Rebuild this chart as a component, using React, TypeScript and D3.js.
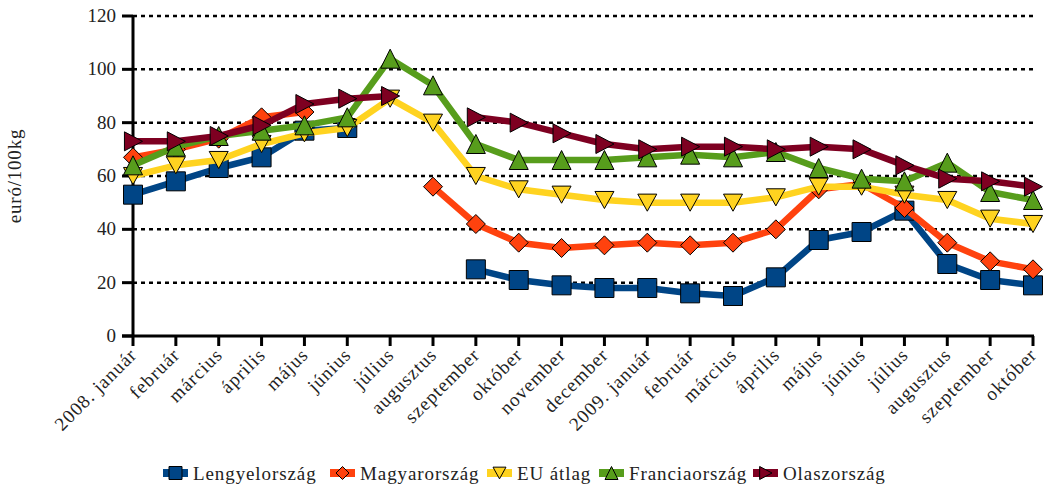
import * as d3 from 'd3';

const months = [
  '2008. január', 'február', 'március', 'április', 'május', 'június', 'július', 'augusztus',
  'szeptember', 'október', 'november', 'december', '2009. január', 'február', 'március',
  'április', 'május', 'június', 'július', 'augusztus', 'szeptember', 'október',
];

const lengyel = [53, 58, 63, 67, 77, 78, null, null, 25, 21, 19, 18, 18, 16, 15, 22, 36, 39, 47, 27, 21, 19];
const magyar = [67, 70, 74, 82, 84, null, null, 56, 42, 35, 33, 34, 35, 34, 35, 40, 55, 57, 48, 35, 28, 25];
const euAtlag = [60, 64, 66, 72, 76, 78, 89, 80, 60, 55, 53, 51, 50, 50, 50, 52, 56, 56, 53, 51, 44, 42];
const francia = [64, 71, 75, 77, 79, 82, 104, 94, 72, 66, 66, 66, 67, 68, 67, 69, 63, 59, 58, 65, 54, 51];
const olasz = [73, 73, 75, 79, 87, 89, 90, null, 82, 80, 76, 72, 70, 71, 71, 70, 71, 70, 64, 59, 58, 56];

const yTicks = [0, 20, 40, 60, 80, 100, 120];

const seriesNames = ['Lengyelország', 'Magyarország', 'EU átlag', 'Franciaország', 'Olaszország'];
const seriesValues = [lengyel, magyar, euAtlag, francia, olasz];
const seriesColors = ['#004586', '#ff420e', '#ffd320', '#579d1c', '#7e0021'];
const seriesShapes = ['square', 'diamond', 'down', 'up', 'right'];

const FONT = "'Liberation Serif', 'DejaVu Serif', serif";

// marker path centred on 0,0
const markerPath = (shape: string, s: number) => {
  const h = s / 2;
  switch (shape) {
    case 'square':
      return `M${-h},${-h}H${h}V${h}H${-h}Z`;
    case 'diamond':
      return `M0,${-h}L${h},0L0,${h}L${-h},0Z`;
    case 'down':
      return `M${-h},${-h * 0.9}H${h}L0,${h * 0.9}Z`;
    case 'up':
      return `M0,${-h}L${h},${h}H${-h}Z`;
    default:
      return `M${-h * 0.9},${-h}L${h},0L${-h * 0.9},${h}Z`;
  }
};

const legendX = [163, 330, 487, 599, 753];

export default function App() {
  const left = 133;
  const right = 1033;
  const top = 16;
  const bottom = 336;

  const x = d3.scalePoint<number>().domain(d3.range(months.length)).range([left, right]);
  const y = d3.scaleLinear().domain([0, 120]).range([bottom, top]);

  const line = d3
    .line<number | null>()
    .defined((d) => d != null)
    .x((_, i) => x(i) as number)
    .y((d) => y(d as number));

  return (
    <svg
      width={1045}
      height={487}
      style={{ position: 'absolute', left: 0, top: 0, background: '#fff', fontFamily: FONT }}
    >
      {/* grid + y ticks */}
      {yTicks.map((t) => (
        <g key={t}>
          {t > 0 && (
            <line
              x1={left}
              x2={right}
              y1={y(t)}
              y2={y(t)}
              stroke="#000"
              strokeWidth={2.5}
              strokeDasharray="4,4"
            />
          )}
          <line x1={left - 11} x2={left} y1={y(t)} y2={y(t)} stroke="#000" strokeWidth={3} />
          <text x={left - 17} y={y(t) + 6} textAnchor="end" fontSize={19} fill="#222">
            {t}
          </text>
        </g>
      ))}

      {/* axes */}
      <line x1={left} x2={left} y1={top} y2={bottom} stroke="#000" strokeWidth={3} />
      <line x1={left - 11} x2={right + 1} y1={bottom} y2={bottom} stroke="#000" strokeWidth={3} />
      {months.map((m, i) => (
        <g key={i}>
          <line x1={x(i)} x2={x(i)} y1={bottom} y2={bottom + 10} stroke="#000" strokeWidth={3} />
          <text
            transform={`translate(${(x(i) as number) + 5},${bottom + 20}) rotate(-45)`}
            textAnchor="end"
            fontSize={19}
            letterSpacing={1}
            fill="#222"
          >
            {m}
          </text>
        </g>
      ))}

      <text
        transform={`translate(21,${(top + bottom) / 2}) rotate(-90)`}
        textAnchor="middle"
        fontSize={19}
        letterSpacing={0.8}
        fill="#222"
      >
        euró/100kg
      </text>

      {/* series */}
      {seriesValues.map((vals, si) => (
        <g key={si}>
          <path d={line(vals) ?? ''} fill="none" stroke={seriesColors[si]} strokeWidth={6.5} strokeLinejoin="round" />
          {vals.map((v, i) =>
            v == null ? null : (
              <path
                key={i}
                transform={`translate(${x(i)},${y(v)})`}
                d={markerPath(seriesShapes[si], 19)}
                fill={seriesColors[si]}
                stroke="#000"
                strokeWidth={1}
              />
            ),
          )}
        </g>
      ))}

      {/* legend */}
      {seriesNames.map((n, si) => (
        <g key={n} transform={`translate(${legendX[si]},473)`}>
          <rect x={0} y={-4} width={25} height={8} fill={seriesColors[si]} />
          <path
            transform="translate(12.5,0)"
            d={markerPath(seriesShapes[si], 13)}
            fill={seriesColors[si]}
            stroke="#000"
            strokeWidth={1}
          />
          <text x={30} y={7} fontSize={19} letterSpacing={0.9} fill="#222">
            {n}
          </text>
        </g>
      ))}
    </svg>
  );
}
